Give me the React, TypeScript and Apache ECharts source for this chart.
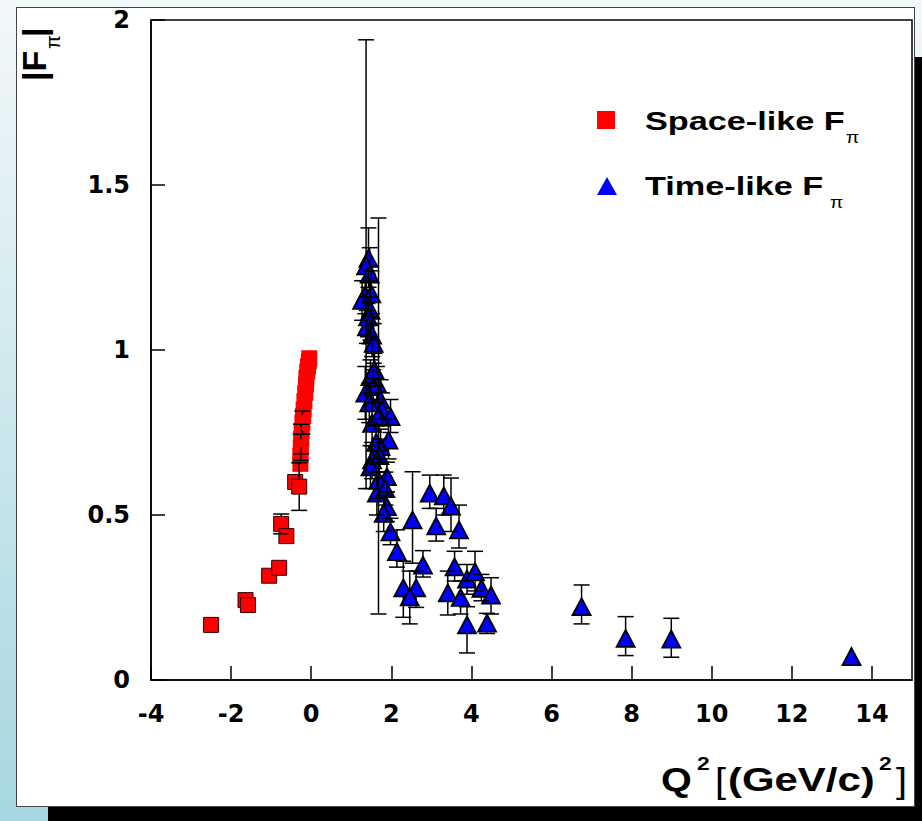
import React, { useEffect, useRef } from "react";
import * as echarts from "echarts";

// Space-like |F_pi| (outlined squares, older data)
const spaceX = [-2.5, -1.64, -1.58, -1.05, -0.8, -0.75, -0.62, -0.4, -0.3];
const spaceY = [0.167, 0.242, 0.227, 0.316, 0.34, 0.473, 0.436, 0.6, 0.586];
const spaceErr = [0.01, 0.01, 0.01, 0.01, 0.01, 0.03, 0.01, 0.02, 0.072];

// Space-like |F_pi| (dense low-Q2 stack)
const stackX = [-0.27, -0.27, -0.26, -0.25, -0.24, -0.22, -0.2, -0.19, -0.17, -0.15, -0.13, -0.12, -0.1, -0.08, -0.06, -0.05];
const stackY = [0.655, 0.68, 0.705, 0.73, 0.755, 0.78, 0.8, 0.82, 0.845, 0.87, 0.895, 0.915, 0.935, 0.95, 0.965, 0.975];
const stackErr = [0.01, 0.02, 0.04, 0.045, 0.02, 0.035, 0.012, 0.01, 0.01, 0.01, 0.01, 0.01, 0.01, 0.01, 0.01, 0.01];

// Time-like |F_pi| with asymmetric error limits
const timeX = [
  1.43, 1.37, 1.35, 1.27, 1.48, 1.39, 1.52, 1.56, 1.48, 1.64,
  1.35, 1.55, 1.73, 1.77, 1.52, 1.98, 1.93, 1.73, 1.52, 1.48,
  1.89, 1.68, 1.64, 1.89, 1.81, 1.98, 2.14, 1.68, 1.46, 1.5,
  1.42, 1.58, 1.45, 1.62, 1.7, 1.85,
  2.53, 2.96, 3.31, 3.49, 3.12, 3.69, 2.79, 2.3, 2.62, 2.46,
  3.58, 3.41, 3.73, 3.89, 4.09, 4.25, 4.49, 3.89, 4.39,
  6.75, 7.85, 8.99, 13.49,
];
const timeY = [
  1.278, 1.255, 1.167, 1.15, 1.12, 1.07, 1.045, 1.02, 0.919, 0.899,
  0.869, 0.889, 0.848, 0.818, 0.778, 0.798, 0.727, 0.707, 0.667, 0.646,
  0.616, 0.606, 0.566, 0.525, 0.505, 0.449, 0.389, 0.8, 1.23, 1.17,
  1.1, 0.94, 0.84, 0.72, 0.68, 0.58,
  0.485, 0.566, 0.558, 0.527, 0.467, 0.455, 0.348, 0.279, 0.279, 0.252,
  0.343, 0.264, 0.25, 0.306, 0.328, 0.278, 0.257, 0.167, 0.172,
  0.222, 0.126, 0.124, 0.071,
];
const timeLo = [
  1.19, 0.58, 1.11, 1.09, 1.03, 1.02, 0.98, 0.96, 0.87, 0.85,
  0.79, 0.84, 0.79, 0.77, 0.71, 0.75, 0.67, 0.66, 0.61, 0.58,
  0.57, 0.55, 0.5, 0.48, 0.45, 0.41, 0.342, 0.2, 1.16, 1.1,
  1.04, 0.89, 0.78, 0.67, 0.63, 0.53,
  0.354, 0.52, 0.5, 0.45, 0.421, 0.4, 0.312, 0.19, 0.22, 0.17,
  0.3, 0.197, 0.2, 0.26, 0.27, 0.24, 0.2, 0.082, 0.141,
  0.17, 0.074, 0.069, 0.06,
];
const timeHi = [
  1.37, 1.94, 1.21, 1.21, 1.21, 1.12, 1.11, 1.08, 0.97, 0.95,
  0.95, 0.94, 0.91, 0.87, 0.85, 0.85, 0.79, 0.76, 0.72, 0.71,
  0.66, 0.66, 0.63, 0.57, 0.56, 0.49, 0.455, 1.4, 1.31, 1.24,
  1.16, 0.99, 0.9, 0.77, 0.73, 0.63,
  0.631, 0.621, 0.621, 0.612, 0.52, 0.53, 0.392, 0.36, 0.33, 0.33,
  0.39, 0.33, 0.3, 0.35, 0.39, 0.32, 0.31, 0.222, 0.202,
  0.288, 0.192, 0.187, 0.082,
];

const xTicks = [-4, -2, 0, 2, 4, 6, 8, 10, 12, 14];
const yTicks = [0, 0.5, 1, 1.5, 2];

const HELV = "'Liberation Sans', Arial, Helvetica, sans-serif";
const TICKFONT = "'DejaVu Sans', 'Liberation Sans', sans-serif";

function txt(x: number, y: number, text: string, font: string, scaleX = 1, extra: any = {}) {
  return {
    type: "text",
    x,
    y,
    scaleX,
    z: 100,
    style: {
      text,
      font,
      fill: "#000",
      textAlign: "left",
      align: "left",
      textVerticalAlign: "middle",
      verticalAlign: "middle",
      ...extra,
    },
  };
}

export default function App() {
  const ref = useRef<HTMLDivElement>(null);
  useEffect(() => {
    const chart = echarts.init(ref.current!, null, { renderer: "svg" });

    const errRender = (gap: number) => (params: any, api: any) => {
      const x = api.value(0);
      const y = api.value(1);
      const lo = api.value(2);
      const hi = api.value(3);
      const c = api.coord([x, y]);
      const t = api.coord([x, hi]);
      const b = api.coord([x, lo]);
      const w = 8;
      const st = { stroke: "#000", lineWidth: 1.5 };
      const children: any[] = [];
      if (c[1] - gap > t[1]) {
        children.push({ type: "line", shape: { x1: t[0], y1: t[1], x2: t[0], y2: c[1] - gap }, style: st });
        children.push({ type: "line", shape: { x1: t[0] - w, y1: t[1], x2: t[0] + w, y2: t[1] }, style: st });
      }
      if (b[1] > c[1] + gap) {
        children.push({ type: "line", shape: { x1: b[0], y1: c[1] + gap, x2: b[0], y2: b[1] }, style: st });
        children.push({ type: "line", shape: { x1: b[0] - w, y1: b[1], x2: b[0] + w, y2: b[1] }, style: st });
      }
      return { type: "group", children };
    };

    const spaceErrData = spaceX.map((x, i) => [x, spaceY[i], spaceY[i] - spaceErr[i], spaceY[i] + spaceErr[i]]);
    const stackErrData = stackX.map((x, i) => [x, stackY[i], stackY[i] - stackErr[i], stackY[i] + stackErr[i]]);
    const timeErrData = timeX.map((x, i) => [x, timeY[i], timeLo[i], timeHi[i]]);

    chart.setOption({
      animation: false,
      backgroundColor: "transparent",
      grid: {
        left: 151,
        top: 20,
        width: 761,
        height: 660,
        show: true,
        borderColor: "#000",
        borderWidth: 1.5,
        backgroundColor: "transparent",
      },
      xAxis: {
        type: "value",
        min: -4,
        max: 15,
        interval: 2,
        axisLine: { onZero: false, lineStyle: { color: "#000", width: 1.5 } },
        axisTick: { inside: true, length: 14, lineStyle: { color: "#000", width: 1.5 } },
        splitLine: { show: false },
        axisLabel: {
          color: "#000",
          fontFamily: TICKFONT,
          fontWeight: "bold",
          fontSize: 24,
          margin: 22,
          showMaxLabel: false,
          formatter: (v: number) => (xTicks.includes(v) ? String(v) : ""),
        },
      },
      yAxis: {
        type: "value",
        min: 0,
        max: 2,
        interval: 0.5,
        axisLine: { onZero: false, lineStyle: { color: "#000", width: 1.5 } },
        axisTick: { inside: true, length: 14, lineStyle: { color: "#000", width: 1.5 } },
        splitLine: { show: false },
        axisLabel: {
          color: "#000",
          fontFamily: TICKFONT,
          fontWeight: "bold",
          fontSize: 24,
          margin: 21,
          formatter: (v: number) => (yTicks.includes(v) ? String(v) : ""),
        },
      },
      series: [
        {
          type: "scatter",
          name: "Space-like",
          symbol: "rect",
          symbolSize: 15,
          itemStyle: { color: "#ff0000", borderColor: "#300000", borderWidth: 1, opacity: 1 },
          data: spaceX.map((x, i) => [x, spaceY[i]]),
          z: 2,
          silent: true,
        },
        {
          type: "scatter",
          name: "Space-like stack",
          symbol: "rect",
          symbolSize: 16,
          itemStyle: { color: "#ff0000", opacity: 1 },
          data: stackX.map((x, i) => [x, stackY[i]]),
          z: 2,
          silent: true,
        },
        {
          type: "scatter",
          name: "Time-like",
          symbol: "triangle",
          symbolSize: [18, 17],
          itemStyle: { color: "#0000ff", borderColor: "#000", borderWidth: 1.8, opacity: 1 },
          data: timeX.map((x, i) => [x, timeY[i]]),
          z: 3,
          silent: true,
        },
        {
          type: "custom",
          name: "space-err",
          renderItem: errRender(8),
          data: spaceErrData.concat(stackErrData),
          encode: { x: 0, y: [1, 2, 3] },
          z: 4,
          silent: true,
        },
        {
          type: "custom",
          name: "time-err",
          renderItem: errRender(9),
          data: timeErrData,
          encode: { x: 0, y: [1, 2, 3] },
          z: 4,
          silent: true,
        },
      ],
      graphic: [
        // legend
        { type: "rect", z: 100, shape: { x: 597, y: 111, width: 18, height: 18 }, style: { fill: "#ff0000" } },
        {
          type: "polygon",
          z: 100,
          shape: { points: [[597, 195], [617, 195], [607, 177]] },
          style: { fill: "#0000ff" },
        },
        txt(645, 121, "Space-like F", `bold 25px ${HELV}`, 1.37),
        txt(846, 138, "π", `16px ${HELV}`, 1.2),
        txt(645, 186, "Time-like F", `bold 25px ${HELV}`, 1.37),
        txt(830, 203, "π", `16px ${HELV}`, 1.2),
        // x axis title
        txt(661, 780, "Q", `bold 33px ${HELV}`, 1.2),
        txt(697, 763, "2", `bold 19px ${HELV}`, 1.2),
        txt(715, 781, "[", `36px ${HELV}`, 1.1),
        txt(728, 780, "(GeV/c)", `bold 33px ${HELV}`, 1.27),
        txt(879, 763, "2", `bold 19px ${HELV}`, 1.2),
        txt(896, 781, "]", `36px ${HELV}`, 1.1),
        // y axis title (rotated)
        {
          type: "group",
          x: 34,
          y: 81,
          rotation: Math.PI / 2,
          z: 100,
          children: [
            txt(0, 0, "|F", `bold 34px ${HELV}`),
            txt(32, 19, "π", `20px ${HELV}`),
            txt(44, 0, "|", `bold 34px ${HELV}`),
          ],
        },
      ],
    });
    return () => chart.dispose();
  }, []);

  return (
    <div
      style={{
        position: "fixed",
        left: 0,
        top: 0,
        width: 922,
        height: 821,
        overflow: "hidden",
        background: "linear-gradient(#f3f8fa, #a6d7e0)",
      }}
    >
      <div
        style={{
          position: "absolute",
          left: 16,
          top: 7,
          width: 899,
          height: 800,
          background: "#fff",
          border: "1px solid #444",
          boxSizing: "border-box",
        }}
      />
      <div style={{ position: "absolute", left: 915, top: 57, width: 7, height: 764, background: "#000" }} />
      <div style={{ position: "absolute", left: 48, top: 807, width: 874, height: 14, background: "#000" }} />
      <div ref={ref} style={{ position: "absolute", left: 0, top: 0, width: 922, height: 821 }} />
    </div>
  );
}
